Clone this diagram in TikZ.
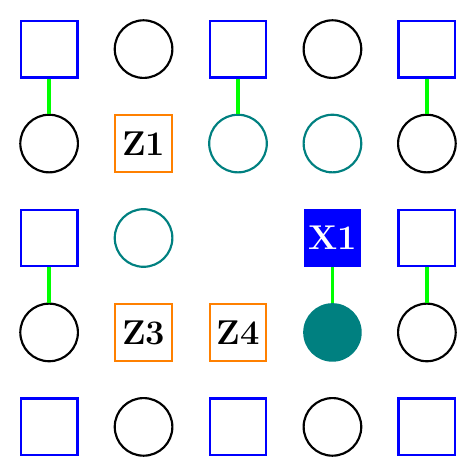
\documentclass[tikz,border=0pt]{standalone}
\usepackage{xcolor}
\usepackage{tikz}
\usetikzlibrary{positioning}

\definecolor{qblue}{RGB}{0,0,255}
\definecolor{qteal}{RGB}{0,128,128}
\definecolor{qorange}{RGB}{255,128,0}
\definecolor{qgreen}{RGB}{0,255,0}

\tikzset{
    dataq/.style={draw=qblue, line width=1.3pt, minimum size=1.2cm, inner sep=0pt},
    ancq/.style={circle, draw=black, line width=1.3pt, minimum size=1.22cm, inner sep=0pt},
    flagq/.style={circle, draw=qteal, line width=1.3pt, minimum size=1.22cm, inner sep=0pt},
    zq/.style={draw=qorange, line width=1.3pt, minimum size=1.2cm, inner sep=0pt, font=\huge\bfseries},
    xq/.style={fill=qblue, draw=qblue, minimum size=1.2cm, inner sep=0pt, text=white, font=\huge\bfseries},
    hitq/.style={circle, fill=qteal, minimum size=1.24cm, inner sep=0pt},
    link/.style={draw=qgreen, line width=2pt}
}

\begin{document}
\begin{tikzpicture}
    \useasboundingbox (-1.04,-1.04) rectangle (9.04,9.04);

    % Hàng 1
    \node[dataq] (d00) at (0,8) {};
    \node[ancq]  (a01) at (2,8) {};
    \node[dataq] (d02) at (4,8) {};
    \node[ancq]  (a03) at (6,8) {};
    \node[dataq] (d04) at (8,8) {};

    % Hàng 2
    \node[ancq]  (a10) at (0,6) {};
    \node[zq]    (z1)  at (2,6) {Z1};
    \node[flagq] (f12) at (4,6) {};
    \node[flagq] (f13) at (6,6) {};
    \node[ancq]  (a14) at (8,6) {};

    % Hàng 3
    \node[dataq] (d20) at (0,4) {};
    \node[flagq] (f21) at (2,4) {};
    \node[xq]    (x1)  at (6,4) {X1};
    \node[dataq] (d24) at (8,4) {};

    % Hàng 4
    \node[ancq]  (a30) at (0,2) {};
    \node[zq]    (z3)  at (2,2) {Z3};
    \node[zq]    (z4)  at (4,2) {Z4};
    \node[hitq]  (h33) at (6,2) {};
    \node[ancq]  (a34) at (8,2) {};

    % Hàng 5
    \node[dataq] (d40) at (0,0) {};
    \node[ancq]  (a41) at (2,0) {};
    \node[dataq] (d42) at (4,0) {};
    \node[ancq]  (a43) at (6,0) {};
    \node[dataq] (d44) at (8,0) {};

    % Các liên kết
    \draw[link] (d00) -- (a10);
    \draw[link] (d02) -- (f12);
    \draw[link] (d04) -- (a14);
    \draw[link] (d20) -- (a30);
    \draw[link] (x1) -- (h33);
    \draw[link] (d24) -- (a34);
\end{tikzpicture}
\end{document}
